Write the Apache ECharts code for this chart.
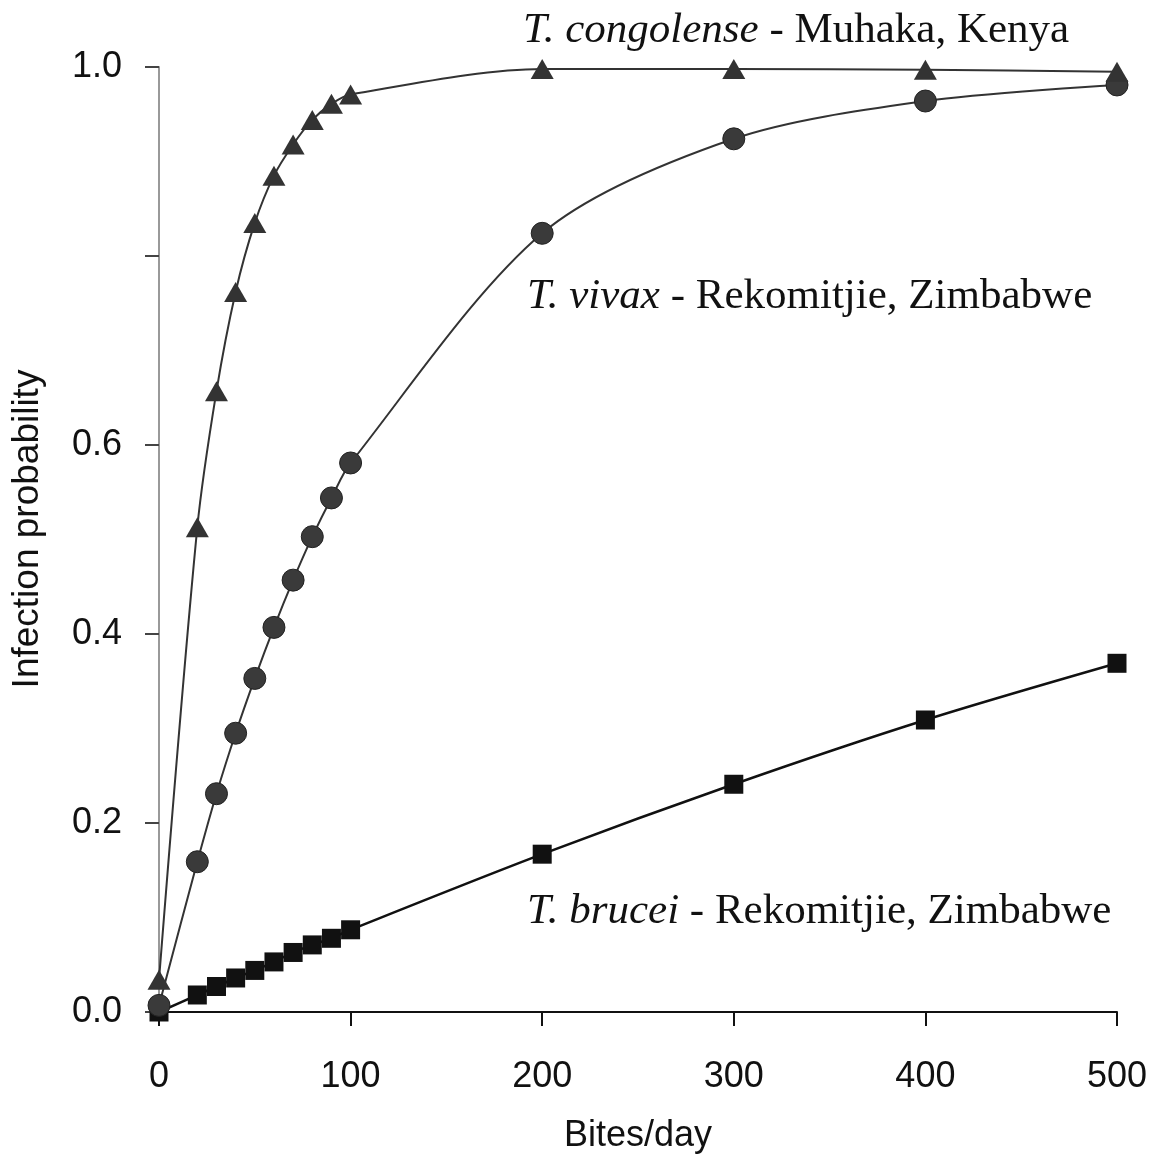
<!DOCTYPE html>
<html>
<head>
<meta charset="utf-8">
<script src="https://cdn.jsdelivr.net/npm/echarts@6/dist/echarts.min.js"></script>
<style>html,body{margin:0;padding:0;background:#fff}#c{width:1157px;height:1164px}</style>
</head>
<body>
<div id="c"></div>
<script>
const bites = [0, 20, 30, 40, 50, 60, 70, 80, 90, 100, 200, 300, 400, 500];
const congolense = [0.034, 0.513, 0.657, 0.762, 0.835, 0.885, 0.918, 0.944, 0.961, 0.971, 0.998, 0.998, 0.997, 0.995];
const vivax = [0.007, 0.159, 0.231, 0.295, 0.353, 0.407, 0.457, 0.503, 0.544, 0.581, 0.824, 0.924, 0.964, 0.981];
const brucei = [0.0, 0.018, 0.027, 0.036, 0.044, 0.053, 0.063, 0.071, 0.078, 0.087, 0.167, 0.241, 0.309, 0.369];
const xTicks = [0, 100, 200, 300, 400, 500];
const yTicks = [0.0, 0.2, 0.4, 0.6, 0.8, 1.0];
const yLabelsShown = ['0.0', '0.2', '0.4', '0.6', '', '1.0'];

function pairs(ys) { return bites.map((x, i) => [x, ys[i]]); }

const chart = echarts.init(document.getElementById('c'));
const sans = '"Liberation Sans", Arial, sans-serif';
const serif = '"Liberation Serif", "Times New Roman", serif';
const FS = 43;
function label(it, rest) {
  return {
    text: '{i|' + it + '}{n|' + rest + '}', fill: '#111',
    font: FS + 'px ' + serif,
    rich: { i: { fontStyle: 'italic', fontFamily: serif, fontSize: FS, fill: '#111' },
            n: { fontFamily: serif, fontSize: FS, fill: '#111' } }
  };
}
chart.setOption({
  animation: false,
  backgroundColor: '#fff',
  grid: { left: 159, right: 40, top: 67, bottom: 152 },
  xAxis: {
    type: 'value', min: 0, max: 500, interval: 100,
    name: 'Bites/day', nameLocation: 'middle', nameGap: 106,
    nameTextStyle: { fontFamily: sans, fontSize: 36, color: '#111' },
    axisLine: { lineStyle: { color: '#111', width: 2 } },
    axisTick: { length: 14, lineStyle: { color: '#111', width: 2 } },
    axisLabel: { margin: 47, fontFamily: sans, fontSize: 36, color: '#111',
      formatter: v => xTicks.includes(v) ? String(v) : '' },
    splitLine: { show: false }
  },
  yAxis: {
    type: 'value', min: 0, max: 1, interval: 0.2,
    axisLine: { show: true, lineStyle: { color: '#999', width: 2 } },
    axisTick: { show: true, length: 14, lineStyle: { color: '#444', width: 2 } },
    axisLabel: { margin: 37, fontFamily: sans, fontSize: 36, color: '#111',
      formatter: v => { const i = yTicks.findIndex(t => Math.abs(t - v) < 1e-6); return i >= 0 ? yLabelsShown[i] : ''; } },
    splitLine: { show: false }
  },
  series: [
    { name: 'T. brucei', type: 'line', smooth: 0.3, data: pairs(brucei),
      symbol: 'rect', symbolSize: 19,
      itemStyle: { color: '#111' }, lineStyle: { color: '#111', width: 2.5 } },
    { name: 'T. vivax', type: 'line', smooth: 0.3, data: pairs(vivax),
      symbol: 'circle', symbolSize: 22,
      itemStyle: { color: '#3a3a3a', borderColor: '#222', borderWidth: 1 }, lineStyle: { color: '#333', width: 2 } },
    { name: 'T. congolense', type: 'line', smooth: 0.3, data: pairs(congolense),
      symbol: 'triangle', symbolSize: [23, 20],
      itemStyle: { color: '#333' }, lineStyle: { color: '#333', width: 2 } }
  ],
  graphic: [
    { type: 'text', x: 28, y: 529, rotation: Math.PI / 2, z: 10,
      style: { text: 'Infection probability', fill: '#111', font: '37px ' + sans,
               textAlign: 'center', textVerticalAlign: 'middle' } },
    { type: 'text', left: 523, top: 9, style: label('T. congolense', ' - Muhaka, Kenya') },
    { type: 'text', left: 527, top: 275, style: label('T. vivax', ' - Rekomitjie, Zimbabwe') },
    { type: 'text', left: 527, top: 890, style: label('T. brucei', ' - Rekomitjie, Zimbabwe') }
  ]
});
</script>
</body>
</html>
